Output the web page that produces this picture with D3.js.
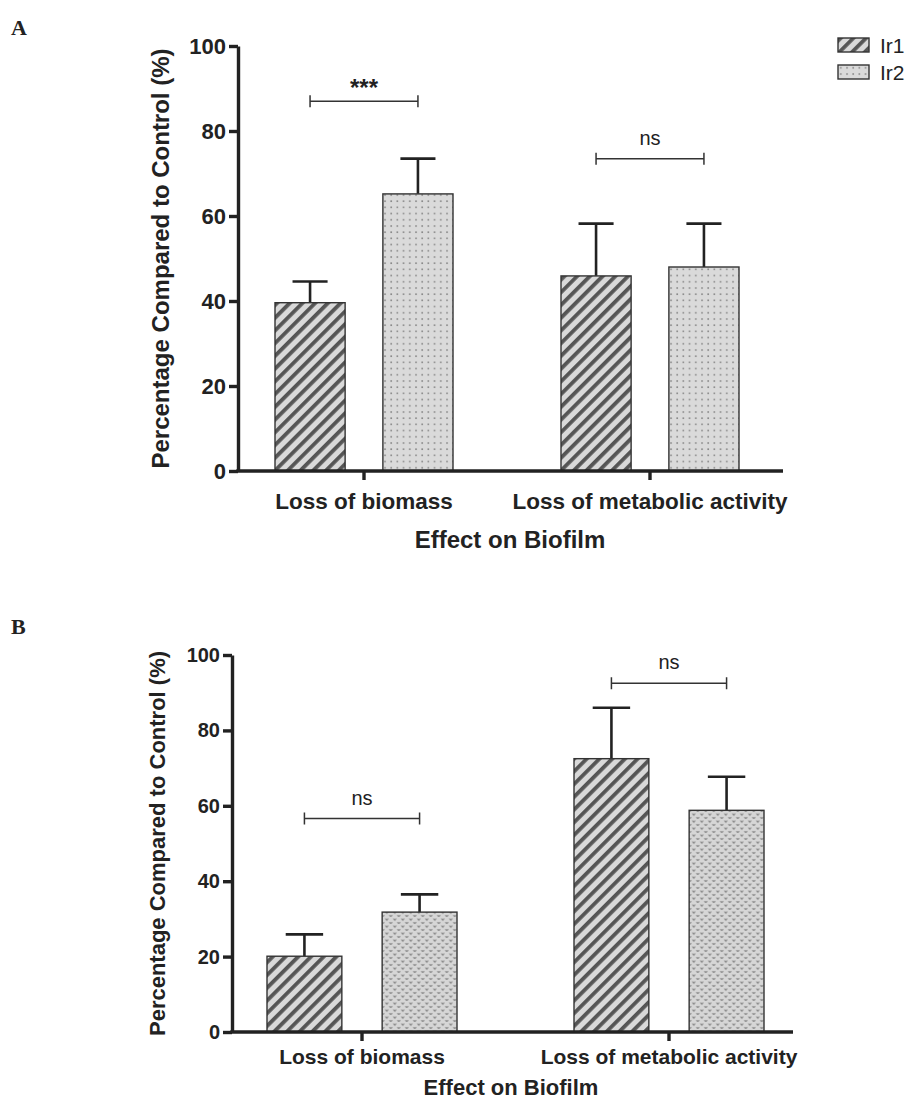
<!DOCTYPE html>
<html>
<head>
<meta charset="utf-8">
<script src="https://cdn.jsdelivr.net/npm/d3@7"></script>
<style>
  body { margin: 0; background: #fff; }
  text { font-family: "Liberation Sans", Arial, sans-serif; fill: #222; }
</style>
</head>
<body>
<div id="chart"></div>
<script>
// Categories and series
const groups = ["Loss of biomass", "Loss of metabolic activity"];
const series = ["Ir1", "Ir2"];
const yTicks = [0, 20, 40, 60, 80, 100];

// Panel A values (mean and upper SD)
const aIr1 = [39.6, 45.9];
const aIr2 = [65.2, 48.0];
const aIr1Err = [5.0, 12.3];
const aIr2Err = [8.3, 10.2];
const aSig = ["***", "ns"];
const aSigY = [87, 73.5];

// Panel B values
const bIr1 = [20.1, 72.5];
const bIr2 = [31.8, 58.8];
const bIr1Err = [5.8, 13.5];
const bIr2Err = [4.7, 8.9];
const bSig = ["ns", "ns"];
const bSigY = [56.6, 92.5];

const svg = d3.select("#chart").append("svg")
  .attr("width", 919)
  .attr("height", 1101);

// Patterns
const defs = svg.append("defs");

const stripe = defs.append("pattern")
  .attr("id", "stripe")
  .attr("patternUnits", "userSpaceOnUse")
  .attr("width", 9)
  .attr("height", 9)
  .attr("patternTransform", "rotate(45)");
stripe.append("rect").attr("width", 9).attr("height", 9).attr("fill", "#d9d9d9");
stripe.append("rect").attr("width", 3.8).attr("height", 9).attr("fill", "#555");

const dots = defs.append("pattern")
  .attr("id", "dots")
  .attr("patternUnits", "userSpaceOnUse")
  .attr("width", 6.2)
  .attr("height", 6.2);
dots.append("rect").attr("width", 6.2).attr("height", 6.2).attr("fill", "#dadada");
dots.append("rect").attr("x", 2).attr("y", 2).attr("width", 1.6).attr("height", 1.6).attr("fill", "#8a8a8a");

const vees = defs.append("pattern")
  .attr("id", "vees")
  .attr("patternUnits", "userSpaceOnUse")
  .attr("width", 8)
  .attr("height", 7);
vees.append("rect").attr("width", 8).attr("height", 7).attr("fill", "#d6d6d6");
vees.append("path").attr("d", "M1,1.5 L2.3,3.3 L3.6,1.5 M5,5 L6.3,6.8 L7.6,5")
  .attr("stroke", "#8a8a8a").attr("stroke-width", 1.2).attr("fill", "none");

function panel(cfg) {
  const g = svg.append("g");

  const y = d3.scaleLinear().domain([0, 100]).range([cfg.y0, cfg.y100]);

  const x0 = d3.scaleBand()
    .domain(groups)
    .range([cfg.c1 - cfg.step / 2, cfg.c1 + cfg.step * 1.5])
    .padding(0);

  const x1 = d3.scaleBand()
    .domain(series)
    .range([cfg.step / 2 - cfg.inner / 2, cfg.step / 2 + cfg.inner / 2])
    .paddingInner(cfg.gap)
    .paddingOuter(0);

  const fills = { Ir1: "url(#stripe)", Ir2: cfg.ir2Fill };
  const vals = { Ir1: cfg.ir1, Ir2: cfg.ir2 };
  const errs = { Ir1: cfg.ir1Err, Ir2: cfg.ir2Err };

  const rows = groups.map((grp, i) => ({
    grp: grp,
    bars: series.map(s => ({ s: s, v: vals[s][i], e: errs[s][i] }))
  }));

  const gg = g.selectAll(".grp")
    .data(rows)
    .enter().append("g")
    .attr("transform", d => "translate(" + x0(d.grp) + ",0)");

  const bw = x1.bandwidth();

  // Error bars (upper only)
  gg.selectAll(".err")
    .data(d => d.bars)
    .enter().append("g")
    .each(function(d) {
      const cx = x1(d.s) + bw / 2;
      const e = d3.select(this);
      e.append("line")
        .attr("x1", cx).attr("x2", cx)
        .attr("y1", y(d.v)).attr("y2", y(d.v + d.e))
        .attr("stroke", "#222").attr("stroke-width", 2.6);
      e.append("line")
        .attr("x1", cx - bw / 4).attr("x2", cx + bw / 4)
        .attr("y1", y(d.v + d.e)).attr("y2", y(d.v + d.e))
        .attr("stroke", "#222").attr("stroke-width", 2.6);
    });

  // Bars
  gg.selectAll(".bar")
    .data(d => d.bars)
    .enter().append("rect")
    .attr("x", d => x1(d.s))
    .attr("width", bw)
    .attr("y", d => y(d.v))
    .attr("height", d => y(0) - y(d.v))
    .attr("fill", d => fills[d.s])
    .attr("stroke", "#333")
    .attr("stroke-width", 1.4);

  // Significance brackets
  gg.each(function(d, i) {
    const sg = d3.select(this);
    const xa = x1("Ir1") + bw / 2;
    const xb = x1("Ir2") + bw / 2;
    const yy = y(cfg.sigY[i]);
    sg.append("path")
      .attr("d", "M" + xa + "," + (yy - 6) + "V" + (yy + 6) +
        "M" + xa + "," + yy + "H" + xb +
        "M" + xb + "," + (yy - 6) + "V" + (yy + 6))
      .attr("stroke", "#333").attr("stroke-width", 1.5).attr("fill", "none");
    const lab = cfg.sig[i];
    sg.append("text")
      .attr("x", (xa + xb) / 2)
      .attr("y", lab === "***" ? yy - 5 : yy - 14)
      .attr("text-anchor", "middle")
      .attr("font-size", lab === "***" ? 24 : 20)
      .attr("font-weight", lab === "***" ? "bold" : "normal")
      .text(lab);
  });

  // Y axis
  const ya = g.append("g")
    .attr("transform", "translate(" + cfg.axisX + ",0)")
    .call(d3.axisLeft(y).tickValues(yTicks).tickSize(9).tickSizeOuter(0).tickPadding(3));
  ya.select(".domain").attr("stroke", "#222").attr("stroke-width", 3.4);
  ya.selectAll(".tick line").attr("stroke", "#222").attr("stroke-width", 3.4);
  ya.selectAll(".tick text")
    .attr("font-size", cfg.tickFont).attr("font-weight", "bold")
    .attr("font-family", "'Liberation Sans', Arial, sans-serif").attr("fill", "#222");

  // X axis
  const xa = g.append("g")
    .attr("transform", "translate(0," + cfg.y0 + ")")
    .call(d3.axisBottom(x0).tickSize(9).tickSizeOuter(0).tickPadding(cfg.catPad));
  xa.select(".domain").remove();
  xa.append("line")
    .attr("x1", cfg.axisX - 1.7).attr("x2", cfg.axisEnd)
    .attr("stroke", "#222").attr("stroke-width", 3.4);
  xa.selectAll(".tick line").attr("stroke", "#222").attr("stroke-width", 3.4);
  xa.selectAll(".tick text")
    .attr("font-size", cfg.catFont).attr("font-weight", "bold")
    .attr("font-family", "'Liberation Sans', Arial, sans-serif").attr("fill", "#222");

  // Axis titles
  g.append("text")
    .attr("transform", "translate(" + cfg.yTitleX + "," + (cfg.y0 + cfg.y100) / 2 + ") rotate(-90)")
    .attr("text-anchor", "middle")
    .attr("font-size", cfg.titleFont).attr("font-weight", "bold")
    .text("Percentage Compared to Control (%)");

  g.append("text")
    .attr("x", cfg.xTitleX).attr("y", cfg.xTitleY)
    .attr("text-anchor", "middle")
    .attr("font-size", cfg.titleFont).attr("font-weight", "bold")
    .text("Effect on Biofilm");

  // Panel letter
  svg.append("text")
    .attr("x", 11).attr("y", cfg.letterY)
    .style("font-family", "'Liberation Serif', 'Times New Roman', serif")
    .attr("font-size", 22).attr("font-weight", "bold")
    .text(cfg.letter);
}

panel({
  letter: "A", letterY: 35,
  y0: 471, y100: 46, axisX: 238, axisEnd: 783,
  c1: 364, step: 286, inner: 178, gap: 0.35,
  ir1: aIr1, ir2: aIr2, ir1Err: aIr1Err, ir2Err: aIr2Err,
  ir2Fill: "url(#dots)", sig: aSig, sigY: aSigY,
  tickFont: 22, catFont: 22.5, catPad: 13, titleFont: 24,
  yTitleX: 169, xTitleX: 510, xTitleY: 548
});

panel({
  letter: "B", letterY: 634,
  y0: 1032, y100: 655, axisX: 232, axisEnd: 793,
  c1: 362, step: 307, inner: 190, gap: 0.35,
  ir1: bIr1, ir2: bIr2, ir1Err: bIr1Err, ir2Err: bIr2Err,
  ir2Fill: "url(#vees)", sig: bSig, sigY: bSigY,
  tickFont: 20, catFont: 21, catPad: 8, titleFont: 22,
  yTitleX: 165, xTitleX: 511, xTitleY: 1095
});

// Legend
const legend = svg.append("g").attr("transform", "translate(838,38)");
const li = legend.selectAll(".li")
  .data(series)
  .enter().append("g")
  .attr("transform", (d, i) => "translate(0," + i * 27 + ")");
li.append("rect")
  .attr("width", 31).attr("height", 14)
  .attr("fill", d => d === "Ir1" ? "url(#stripe)" : "url(#dots)")
  .attr("stroke", "#333").attr("stroke-width", 1.4);
li.append("text")
  .attr("x", 42).attr("y", 15)
  .attr("font-size", 21)
  .text(d => d);
</script>
</body>
</html>
